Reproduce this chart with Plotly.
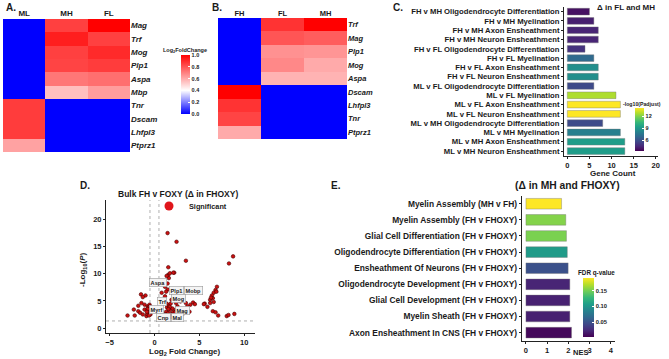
import plotly.graph_objects as go

W, H = 669, 359
FONT = "Arial, Liberation Sans, sans-serif"

# ---------------- Panel A data ----------------
a_cols = ["ML", "MH", "FL"]
a_genes = ["Mag", "Trf", "Mog", "Plp1", "Aspa", "Mbp", "Tnr", "Dscam", "Lhfpl3", "Ptprz1"]
a_ML = [0, 0, 0, 0, 0, 0, 0.86, 0.86, 0.86, 0.62]
a_MH = [0.85, 0.93, 0.85, 0.84, 0.72, 0.55, 0, 0, 0, 0]
a_FL = [1.0, 0.85, 0.90, 0.86, 0.74, 0.63, 0, 0, 0, 0]

# ---------------- Panel B data ----------------
b_cols = ["FH", "FL", "MH"]
b_genes = ["Trf", "Mag", "Plp1", "Mog", "Aspa", "Dscam", "Lhfpl3", "Tnr", "Ptprz1"]
b_FH = [0, 0, 0, 0, 0, 1.0, 0.88, 0.84, 0.60]
b_FL = [0.88, 0.80, 0.66, 0.68, 0.58, 0, 0, 0, 0]
b_MH = [1.0, 0.78, 0.65, 0.60, 0.58, 0, 0, 0, 0]

lfc_ticks = [0, 0.2, 0.4, 0.6, 0.8, 1.0]
lfc_ticktext = ["0.0", "0.2", "0.4", "0.6", "0.8", "1.0"]

# ---------------- Panel C data ----------------
c_terms = [
    "FH v MH Oligodendrocyte Differentiation",
    "FH v MH Myelination",
    "FH v MH Axon Ensheathment",
    "FH v MH Neuron Ensheathment",
    "FH v FL Oligodendrocyte Differentiation",
    "FH v FL Myelination",
    "FH v FL Axon Ensheathment",
    "FH v FL Neuron Ensheathment",
    "ML v FL Oligodendrocyte Differentiation",
    "ML v FL Myelination",
    "ML v FL Axon Ensheathment",
    "ML v FL Neuron Ensheathment",
    "ML v MH Oligodendrocyte Differentiation",
    "ML v MH Myelination",
    "ML v MH Axon Ensheathment",
    "ML v MH Neuron Ensheathment",
]
c_counts = [5, 6, 7, 7, 4, 6, 7, 7, 6, 11, 12, 12, 8, 12, 13, 13]
c_padj = [3.8, 4.2, 4.4, 4.4, 4.9, 7.0, 8.6, 8.6, 5.7, 12.7, 14.0, 14.0, 5.7, 7.9, 9.2, 9.2]
c_xticks = [0, 5, 10, 15, 20]
c_cticks = [6, 9, 12]

# ---------------- Panel D data ----------------
d_lfc = [
    1.46, 2.46, 3.5, 8.76, 8.3, 1.54, 2.2, 1.54, 1.6, 1.46, 1.17, 1.72, 1.35, 2.1,
    6.96, 6.8, 6.6, 6.9, 6.4, 6.2, 6.5, 6.2, 5.6, 5.9, 6.5, 6.8, 7.1, 8.05, 8.25, 8.9, 6.3, 6.6,
    -1.5, -1.0, -1.3, -1.45, -1.1, -1.8, -2.3, -1.8, -3.0, -2.2, -1.6, -1.1, -0.75, -0.55, -1.3, -0.9,
    -0.7, -0.6, -0.5, -0.8, -0.65, -0.45, -0.55, -0.75, -0.6, -0.4, -0.85, -0.5,
    1.3, 1.5, 1.7, 1.9, 2.1, 1.4, 1.6, 1.8, 2.0, 2.3, 1.5, 1.8, 2.2, 1.2, 1.7, 2.4, 1.35, 1.55,
    0.8, 1.17, 1.47, 2.0, 2.2, 2.9, 3.5, 4.0, 4.3, 3.66, 3.3, 2.56, 3.1, 2.7, 1.9, 1.3, 2.4, 3.9, 4.5, 5.5,
]
d_nlp = [
    17.5, 15.9, 12.4, 13.2, 11.9, 11.2, 10.2, 9.8, 9.2, 8.2, 7.6, 10.1, 9.6, 10.2,
    7.6, 7.0, 6.5, 6.7, 6.0, 5.2, 5.5, 4.6, 4.5, 3.9, 3.1, 2.9, 2.3, 2.2, 2.4, 2.6, 5.6, 4.8,
    6.2, 6.0, 5.7, 4.6, 4.3, 4.1, 3.4, 3.1, 2.3, 2.3, 2.8, 3.4, 4.0, 4.3, 2.5, 2.2,
    3.2, 2.8, 3.5, 2.6, 3.8, 2.5, 3.0, 3.5, 2.3, 3.1, 3.0, 4.0,
    3.0, 2.7, 3.3, 2.6, 3.0, 3.8, 4.2, 4.5, 3.6, 2.9, 2.2, 2.0, 2.4, 2.5, 3.9, 3.4, 4.5, 3.5,
    6.5, 5.85, 7.1, 6.5, 5.5, 4.9, 4.6, 4.3, 4.7, 4.0, 3.4, 4.0, 2.5, 5.0, 5.2, 6.7, 4.6, 3.0, 4.4, 4.4,
]
d_label_genes = ["Aspa", "Plp1", "Mobp", "Mog", "Trf", "Myrf", "Mag", "Cnp", "Mal"]
d_label_x = [0.42, 2.47, 4.31, 2.64, 0.87, 0.24, 3.1, 0.98, 2.55]
d_label_y = [8.4, 6.9, 6.9, 5.5, 4.85, 3.45, 3.25, 1.9, 1.85]
d_fc_cut = 0.5
d_p_cut = 1.3
d_xticks = [-5, 0, 5, 10]
d_yticks = [0, 5, 10, 15, 20]

# ---------------- Panel E data ----------------
e_terms = [
    "Myelin Assembly (MH v FH)",
    "Myelin Assembly (FH v FHOXY)",
    "Glial Cell Differentiation (FH v FHOXY)",
    "Oligodendrocyte Differentiation (FH v FHOXY)",
    "Ensheathment Of Neurons (FH v FHOXY)",
    "Oligodendrocyte Development (FH v FHOXY)",
    "Glial Cell Development (FH v FHOXY)",
    "Myelin Sheath (FH v FHOXY)",
    "Axon Ensheathment In CNS (FH v FHOXY)",
]
e_nes = [1.68, 1.88, 1.91, 1.95, 1.99, 2.07, 2.07, 2.07, 2.15]
e_fdr = [0.19, 0.155, 0.152, 0.105, 0.05, 0.022, 0.02, 0.02, 0.007]
e_xticks = [0, 1, 2, 3, 4]
e_cticks = [0.05, 0.10, 0.15]


def px(x):
    return x / W


def py(y):
    return 1 - y / H


def f(size, bold=True, italic=False, color="#1a1a1a"):
    d = dict(family=FONT, size=size, color=color)
    if bold:
        d["weight"] = "bold"
    if italic:
        d["style"] = "italic"
    return d


lfc_scale = [[0, "#0000FF"], [0.4, "#FFFFFF"], [1, "#FF0000"]]

fig = go.Figure()

# Panel A heatmap
zA = [list(r) for r in zip(a_ML, a_MH, a_FL)]
fig.add_trace(go.Heatmap(
    z=zA, x=a_cols, y=a_genes, zmin=0, zmax=1, colorscale=lfc_scale,
    xaxis="x", yaxis="y",
    colorbar=dict(x=px(181), xanchor="left", y=py(84.5), yanchor="middle",
                  thickness=9, len=59, lenmode="pixels", xpad=0, ypad=0,
                  outlinewidth=0, tickvals=lfc_ticks, ticktext=lfc_ticktext,
                  ticks="inside", ticklen=2, tickcolor="white",
                  tickfont=f(5.5)),
))

# Panel B heatmap
zB = [list(r) for r in zip(b_FH, b_FL, b_MH)]
fig.add_trace(go.Heatmap(
    z=zB, x=b_cols, y=b_genes, zmin=0, zmax=1, colorscale=lfc_scale,
    xaxis="x2", yaxis="y2", showscale=False,
))

# Panel C bars
fig.add_trace(go.Bar(
    x=c_counts, y=c_terms, orientation="h", width=0.72,
    xaxis="x3", yaxis="y3",
    marker=dict(color=c_padj, colorscale="Viridis", cmin=3.3, cmax=14,
                line=dict(color="#777777", width=0.4),
                colorbar=dict(x=px(635), xanchor="left", y=py(129.5), yanchor="middle",
                              thickness=9, len=43, lenmode="pixels", xpad=0, ypad=0,
                              outlinewidth=0, tickvals=c_cticks,
                              ticks="inside", ticklen=2, tickcolor="white",
                              tickfont=f(5.5))),
    showlegend=False,
))

# Panel D volcano
fig.add_trace(go.Scatter(
    x=d_lfc, y=d_nlp, mode="markers", xaxis="x4", yaxis="y4",
    marker=dict(size=3.6, color="#CC1111", line=dict(color="#4a0000", width=0.6)),
    showlegend=False,
))
fig.add_trace(go.Scatter(
    x=[None], y=[None], mode="markers", xaxis="x4", yaxis="y4",
    marker=dict(size=9, color="#E0161B"), name="Significant", showlegend=True,
))

# Panel E bars
fig.add_trace(go.Bar(
    x=e_nes, y=e_terms, orientation="h", width=0.66,
    xaxis="x5", yaxis="y5",
    marker=dict(color=e_fdr, colorscale="Viridis", cmin=0.003, cmax=0.19,
                line=dict(color="#777777", width=0.4),
                colorbar=dict(x=px(583), xanchor="left", y=py(307.5), yanchor="middle",
                              thickness=11, len=59, lenmode="pixels", xpad=0, ypad=0,
                              outlinewidth=0, tickvals=e_cticks, tickformat=".2f",
                              ticks="inside", ticklen=2, tickcolor="white",
                              tickfont=f(5.8))),
    showlegend=False,
))

axis_common = dict(showgrid=False, zeroline=False, automargin=False)
line_axis = dict(showline=True, linecolor="#222222", linewidth=1, ticks="outside",
                 ticklen=2, tickcolor="#222222", showgrid=False, zeroline=False,
                 automargin=False)

annotations = []


def ann(text, x, y, size, angle=0, bold=True, xanchor="center", **kw):
    annotations.append(dict(text=text, x=px(x), y=py(y), xref="paper", yref="paper",
                            showarrow=False, font=f(size, bold), textangle=angle,
                            xanchor=xanchor, yanchor="middle", **kw))


# panel letters and titles
ann("A.", 11, 8, 10)
ann("B.", 217, 8, 10)
ann("C.", 398, 8, 10)
ann("D.", 85, 185, 10)
ann("E.", 336, 186, 10)
ann("Log<sub>2</sub>FoldChange", 185, 50, 5.5)
ann("Δ in FL and MH", 626, 8, 8)
ann("Gene Count", 613, 173, 8)
ann("-log10(Padjust)", 642, 104, 5.2)
ann("Bulk FH v FOXY (Δ in FHOXY)", 178, 194, 8.5)
ann("-Log<sub>10</sub>(<i>P</i>)", 83, 270, 8, angle=-90)
ann("Log<sub>2</sub> Fold Change)", 184, 351.5, 8)
ann("(Δ in MH and FHOXY)", 567, 185, 10.3)
ann("FDR q-value", 596, 273, 6.3)
ann("NES", 580, 352, 7.5)

for g, gx, gy in zip(d_label_genes, d_label_x, d_label_y):
    annotations.append(dict(text=g, x=gx, y=gy, xref="x4", yref="y4", showarrow=False,
                            font=f(5.6), bgcolor="#f4f4f4", bordercolor="#9a9a9a",
                            borderwidth=0.6, borderpad=1, xanchor="center", yanchor="middle"))

shapes = [
    dict(type="line", xref="x4", yref="y4 domain", x0=-d_fc_cut, x1=-d_fc_cut, y0=0, y1=1,
         line=dict(color="#9a9a9a", width=0.8, dash="dot")),
    dict(type="line", xref="x4", yref="y4 domain", x0=d_fc_cut, x1=d_fc_cut, y0=0, y1=1,
         line=dict(color="#9a9a9a", width=0.8, dash="dot")),
    dict(type="line", xref="x4 domain", yref="y4", x0=0, x1=1, y0=d_p_cut, y1=d_p_cut,
         line=dict(color="#9a9a9a", width=0.8, dash="dot")),
]

fig.update_layout(
    width=W, height=H, margin=dict(l=0, r=0, t=0, b=0, autoexpand=False),
    paper_bgcolor="white", plot_bgcolor="white",
    font=dict(family=FONT),
    bargap=0.2,
    xaxis=dict(domain=[px(3), px(130)], anchor="y", side="top", ticks="", tickfont=f(8),
               **axis_common),
    yaxis=dict(domain=[py(152), py(19)], anchor="x", side="right", autorange="reversed",
               tickmode="array", tickvals=a_genes,
               ticks="", tickfont=f(8, italic=True), **axis_common),
    xaxis2=dict(domain=[px(218), px(347)], anchor="y2", side="top", ticks="", tickfont=f(7.5),
                **axis_common),
    yaxis2=dict(domain=[py(139), py(18)], anchor="x2", side="right", autorange="reversed",
                tickmode="array", tickvals=b_genes,
                ticks="", tickfont=f(7.5, italic=True), **axis_common),
    xaxis3=dict(domain=[px(564), px(658)], anchor="y3", range=[-0.75, 20.5],
                tickvals=c_xticks, tickfont=f(7.5), **line_axis),
    yaxis3=dict(domain=[py(155.7), py(7)], anchor="x3", autorange="reversed", type="category",
                tickmode="array", tickvals=c_terms,
                tickfont=f(7.7), **line_axis),
    xaxis4=dict(domain=[px(106), px(255)], anchor="y4", range=[-5.4, 11.2],
                tickvals=d_xticks, tickfont=f(7.5), **line_axis),
    yaxis4=dict(domain=[py(333), py(200)], anchor="x4", range=[-0.92, 23.6],
                tickvals=d_yticks, tickfont=f(7.5), **line_axis),
    xaxis5=dict(domain=[px(521.7), px(615)], anchor="y5", range=[-0.2, 4.2],
                tickvals=e_xticks, tickfont=f(7.5), **line_axis),
    yaxis5=dict(domain=[py(340.7), py(195.7)], anchor="x5", autorange="reversed", type="category",
                tickmode="array", tickvals=e_terms,
                tickfont=f(8.4), **line_axis),
    legend=dict(x=px(149), y=py(206), xanchor="left", yanchor="middle", font=f(7.3),
                bgcolor="rgba(0,0,0,0)", itemwidth=30, itemsizing="trace",
                tracegroupgap=0, borderwidth=0),
    annotations=annotations,
    shapes=shapes,
)

fig.write_html(
    "out.html",
    config={"displayModeBar": False},
    post_script="document.body.style.margin='0';document.body.style.padding='0';"
                "document.body.style.overflow='hidden';",
)
